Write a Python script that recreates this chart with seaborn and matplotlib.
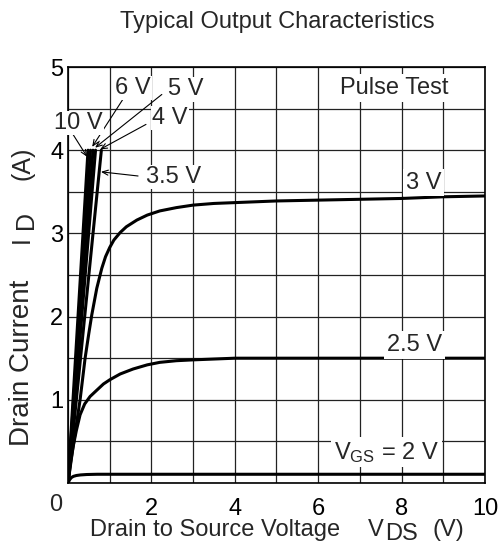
import numpy as np
import pandas as pd
import matplotlib
matplotlib.use("Agg")
import matplotlib.pyplot as plt
from matplotlib.transforms import IdentityTransform
from matplotlib.ticker import MultipleLocator
import seaborn as sns

# ---------------- data ----------------
vgs_labels = ["10 V", "6 V", "5 V", "4 V", "3.5 V", "3 V", "2.5 V", "2 V"]

vds_10 = [0.0, 0.24, 0.48]
id_10 = [0.0, 2.0, 4.0]
vds_6 = [0.0, 0.27, 0.54]
id_6 = [0.0, 2.0, 4.0]
vds_5 = [0.0, 0.30, 0.60]
id_5 = [0.0, 2.0, 4.0]
vds_4 = [0.0, 0.33, 0.66]
id_4 = [0.0, 2.0, 4.0]
vds_35 = [0.0, 0.40, 0.80]
id_35 = [0.0, 2.0, 4.0]
vds_3 = [0.0, 0.10, 0.20, 0.29, 0.41, 0.50, 0.57, 0.69, 0.81, 0.90, 1.0, 1.1, 1.25, 1.4,
         1.65, 1.9, 2.2, 2.6, 3.0, 3.5, 4.0, 5.0, 6.0, 7.0, 8.0, 9.0, 10.0]
id_3 = [0.0, 0.36, 0.70, 1.0, 1.50, 1.80, 2.02, 2.34, 2.58, 2.72, 2.83, 2.92, 3.01, 3.08,
        3.16, 3.22, 3.27, 3.31, 3.34, 3.36, 3.37, 3.39, 3.40, 3.41, 3.42, 3.44, 3.45]
vds_25 = [0.0, 0.06, 0.12, 0.20, 0.29, 0.40, 0.53, 0.70, 0.85, 1.0, 1.25, 1.56, 1.9,
          2.2, 2.6, 3.0, 3.5, 4.0, 10.0]
id_25 = [0.0, 0.24, 0.43, 0.63, 0.82, 0.95, 1.04, 1.12, 1.19, 1.24, 1.31, 1.37, 1.42,
         1.45, 1.47, 1.48, 1.49, 1.50, 1.50]
vds_2 = [0.0, 0.04, 0.08, 0.13, 0.20, 0.30, 0.45, 0.70, 10.0]
id_2 = [0.0, 0.04, 0.065, 0.08, 0.09, 0.097, 0.102, 0.105, 0.105]

x_ticks = [2, 4, 6, 8, 10]
y_ticks = [1, 2, 3, 4, 5]

# arrow annotations: label, text centre, arrow start, arrow tip
arrow_labels = ["10 V", "6 V", "5 V", "4 V", "3.5 V"]
arrow_text_xy = [(0.24, 4.33), (1.55, 4.75), (2.83, 4.73), (2.45, 4.39), (2.54, 3.68)]
arrow_from = [(0.12, 4.19), (1.34, 4.63), (2.25, 4.67), (1.87, 4.31), (1.68, 3.69)]
arrow_to = [(0.46, 3.92), (0.58, 4.04), (0.65, 4.03), (0.77, 4.01), (0.79, 3.74)]

# ---------------- long table ----------------
series = [(vds_10, id_10), (vds_6, id_6), (vds_5, id_5), (vds_4, id_4),
          (vds_35, id_35), (vds_3, id_3), (vds_25, id_25), (vds_2, id_2)]
rows = []
for lab, (xs, ys) in zip(vgs_labels, series):
    for x, y in zip(xs, ys):
        rows.append({"VDS": x, "ID": y, "VGS": lab})
df = pd.DataFrame(rows)

# ---------------- figure ----------------
sns.set_theme(style="white")
plt.rcParams["font.family"] = ["Liberation Sans", "DejaVu Sans"]
plt.rcParams["mathtext.default"] = "regular"

W, H = 502, 552
fig = plt.figure(figsize=(W / 100, H / 100), dpi=100)
ax = fig.add_axes([68 / W, 1 - 483 / H, (485 - 68) / W, (483 - 67) / H])

FS = 17

sns.lineplot(data=df, x="VDS", y="ID", hue="VGS", units="VGS", estimator=None,
             sort=False, palette={l: "black" for l in vgs_labels}, legend=False,
             linewidth=2.2, ax=ax, zorder=3)
for ln in ax.get_lines():
    ln.set_solid_joinstyle("round")
    ln.set_solid_capstyle("round")

ax.set_xlim(0, 10)
ax.set_ylim(0, 5)
ax.set_xticks(x_ticks)
ax.set_yticks(y_ticks)
ax.set_xticklabels([str(t) for t in x_ticks])
ax.set_yticklabels([str(t) for t in y_ticks])
ax.xaxis.set_minor_locator(MultipleLocator(1))
ax.yaxis.set_minor_locator(MultipleLocator(0.5))
ax.grid(True, which="both", color="#222222", linewidth=0.9, zorder=1)
ax.set_axisbelow(True)
ax.tick_params(axis="both", which="both", length=0, labelsize=FS, colors="black")
ax.tick_params(axis="x", pad=11)
ax.tick_params(axis="y", pad=3.5)
for sp in ax.spines.values():
    sp.set_color("black")
    sp.set_linewidth(1.2)
ax.set_xlabel("")
ax.set_ylabel("")

# corner zero
ax.text(-0.14, -0.13, "0", transform=ax.transData, ha="right", va="top",
        fontsize=FS, clip_on=False)

# arrows and their labels
for lab, txy, a0, a1 in zip(arrow_labels, arrow_text_xy, arrow_from, arrow_to):
    ax.annotate("", xy=a1, xytext=a0,
                arrowprops=dict(arrowstyle="->,head_length=0.35,head_width=0.15",
                                color="black", lw=0.8, shrinkA=0, shrinkB=0),
                zorder=5)
    ax.text(txy[0], txy[1], lab, ha="center", va="center", fontsize=FS, zorder=6,
            bbox=dict(boxstyle="square,pad=0.05", fc="white", ec="none"))

box = dict(boxstyle="square,pad=0.12", fc="white", ec="none")
ax.text(8.53, 3.61, "3 V", ha="center", va="center", fontsize=FS, bbox=box, zorder=6)
ax.text(8.3, 1.66, "2.5 V", ha="center", va="center", fontsize=FS, bbox=box, zorder=6)
ax.text(7.64, 0.37, "V$_{GS}$ = 2 V", ha="center", va="center", fontsize=FS, bbox=box, zorder=6)
ax.text(7.83, 4.75, "Pulse Test", ha="center", va="center", fontsize=FS, bbox=box, zorder=6)

# title
fig.text(277 / W, 1 - 28 / H, "Typical Output Characteristics", ha="center",
         va="baseline", fontsize=FS)

renderer = fig.canvas.get_renderer()


def seq_text(start, base, pieces):
    pos = start
    for s, gap, drop in pieces:
        pos += gap
        t = fig.text(pos, base - drop, s, transform=IdentityTransform(),
                     ha="left", va="baseline", fontsize=FS)
        pos += t.get_window_extent(renderer).width


# x label with full-size lowered subscript
seq_text(90, H - 536, [("Drain to Source Voltage", 0, 0), ("V", 28, 0),
                       ("DS", 1, 4), ("(V)", 15, 0)])

# y label pieces (bottom edge in image pixels, size, rightward drop)
ylab_pieces = [("Drain Current", 446, 20, 0), ("I", 243, 18, 0),
               ("D", 229, 18, 4), ("(A)", 180, 18, 0)]
for s, ybot, size, drop in ylab_pieces:
    fig.text(29 + drop, H - ybot, s, transform=IdentityTransform(), rotation=90,
             rotation_mode="anchor", ha="left", va="baseline", fontsize=size)

fig.savefig("out.png", dpi=100)
